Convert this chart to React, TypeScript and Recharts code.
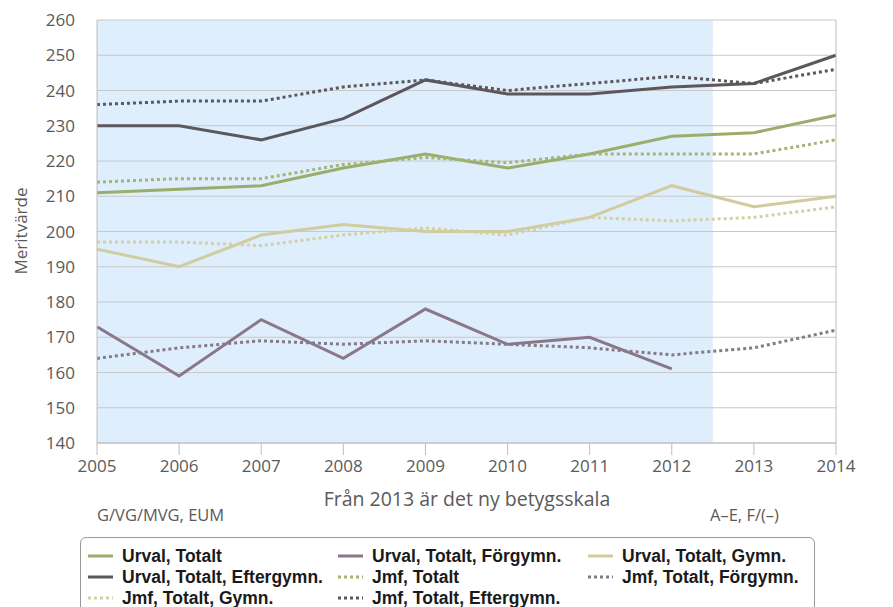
import { CartesianGrid, Line, LineChart, ReferenceArea, ReferenceLine, XAxis, YAxis } from 'recharts'

const years = [2005, 2006, 2007, 2008, 2009, 2010, 2011, 2012, 2013, 2014]
const yTicks = [140, 150, 160, 170, 180, 190, 200, 210, 220, 230, 240, 250, 260]

const urvalTotalt = [211, 212, 213, 218, 222, 218, 222, 227, 228, 233]
const urvalForgymn = [173, 159, 175, 164, 178, 168, 170, 161, null, null]
const urvalGymn = [195, 190, 199, 202, 200, 200, 204, 213, 207, 210]
const urvalEftergymn = [230, 230, 226, 232, 243, 239, 239, 241, 242, 250]
const jmfTotalt = [214, 215, 215, 219, 221, 219.5, 222, 222, 222, 226]
const jmfForgymn = [164, 167, 169, 168, 169, 168, 167, 165, 167, 172]
const jmfGymn = [197, 197, 196, 199, 201, 199, 204, 203, 204, 207]
const jmfEftergymn = [236, 237, 237, 241, 243, 240, 242, 244, 242, 246]

const series = [
  { key: 'ut', name: 'Urval, Totalt', values: urvalTotalt, color: '#9aad6a', dotted: false },
  { key: 'uf', name: 'Urval, Totalt, Förgymn.', values: urvalForgymn, color: '#8a7788', dotted: false },
  { key: 'ug', name: 'Urval, Totalt, Gymn.', values: urvalGymn, color: '#d0cc9f', dotted: false },
  { key: 'ue', name: 'Urval, Totalt, Eftergymn.', values: urvalEftergymn, color: '#5c575d', dotted: false },
  { key: 'jt', name: 'Jmf, Totalt', values: jmfTotalt, color: '#a3b574', dotted: true },
  { key: 'jf', name: 'Jmf, Totalt, Förgymn.', values: jmfForgymn, color: '#857a85', dotted: true },
  { key: 'jg', name: 'Jmf, Totalt, Gymn.', values: jmfGymn, color: '#d3d0a6', dotted: true },
  { key: 'je', name: 'Jmf, Totalt, Eftergymn.', values: jmfEftergymn, color: '#5c575d', dotted: true },
]

const data = years.map((year, i) => {
  const row: Record<string, number | null> = { year }
  series.forEach((s) => {
    row[s.key] = s.values[i]
  })
  return row
})

const labelFont = 'Open Sans, DejaVu Sans, sans-serif'
const tickFont = { fontSize: 17, fill: '#5a5a5a', fontFamily: labelFont }
const axisGrey = '#bdbdbd'

// right-hand tick labels, offset from the axis line by a fixed gap
function RightTick(props: any) {
  const { x, y, payload } = props
  return (
    <text x={x + 25} y={y} dy={6} textAnchor="start" fontSize={17} fill="#5a5a5a" fontFamily={labelFont}>
      {payload.value}
    </text>
  )
}

export default function App() {
  return (
    <div style={{ position: 'absolute', left: 0, top: 0, width: 893, height: 607, background: '#fff', overflow: 'hidden' }}>
      <LineChart width={893} height={607} data={data} margin={{ top: 20, right: 0, left: 40, bottom: 124 }}>
        <ReferenceArea yAxisId="l" x1={2005} x2={2012.5} y1={140} y2={260} fill="#dfeefc" fillOpacity={1} stroke="none" />
        {yTicks.map((t) => (
          <ReferenceLine key={t} yAxisId="l" y={t} stroke="#c8c8c8" strokeWidth={1} />
        ))}
        <CartesianGrid horizontal={false} vertical={false} />
        <XAxis
          dataKey="year"
          type="number"
          domain={[2005, 2014]}
          ticks={years}
          interval={0}
          height={40}
          tick={tickFont}
          tickLine={{ stroke: axisGrey }}
          tickSize={12}
          tickMargin={5}
          axisLine={{ stroke: axisGrey }}
        />
        <YAxis
          yAxisId="l"
          domain={[140, 260]}
          ticks={yTicks}
          interval={0}
          width={57}
          tick={tickFont}
          tickLine={false}
          axisLine={{ stroke: axisGrey }}
          tickMargin={16}
        />
        <YAxis
          yAxisId="r"
          orientation="right"
          domain={[140, 260]}
          ticks={yTicks}
          interval={0}
          width={57}
          tick={<RightTick />}
          tickLine={false}
          tickSize={0}
          tickMargin={0}
          axisLine={{ stroke: axisGrey }}
        />
        {series.map((s) => (
          <Line
            key={s.key}
            yAxisId="l"
            dataKey={s.key}
            name={s.name}
            type="linear"
            stroke={s.color}
            strokeWidth={3}
            strokeDasharray={s.dotted ? '3 3' : undefined}
            dot={false}
            activeDot={false}
            isAnimationActive={false}
            connectNulls={false}
          />
        ))}
      </LineChart>

      <div
        style={{
          position: 'absolute',
          left: 20,
          top: 231,
          transform: 'translate(-50%, -50%) rotate(-90deg)',
          fontFamily: labelFont,
          fontSize: 17,
          color: '#5a5a5a',
          whiteSpace: 'nowrap',
        }}
      >
        Meritvärde
      </div>
      <div
        style={{
          position: 'absolute',
          left: 467,
          top: 498,
          transform: 'translate(-50%, -50%)',
          fontFamily: labelFont,
          fontSize: 19.5,
          color: '#5a5a5a',
          whiteSpace: 'nowrap',
        }}
      >
        Från 2013 är det ny betygsskala
      </div>
      <div style={{ position: 'absolute', left: 97, top: 503, fontFamily: labelFont, fontSize: 16.5, color: '#5a5a5a' }}>
        G/VG/MVG, EUM
      </div>
      <div style={{ position: 'absolute', left: 710, top: 503, fontFamily: labelFont, fontSize: 16.5, color: '#5a5a5a' }}>
        A–E, F/(–)
      </div>

      <div
        style={{
          position: 'absolute',
          left: 80,
          top: 537,
          width: 735,
          height: 90,
          border: '1px solid #999',
          borderRadius: 6,
          boxSizing: 'border-box',
        }}
      >
        {series.map((s, i) => {
          const col = i % 3
          const row = Math.floor(i / 3)
          return (
            <div
              key={s.key}
              style={{
                position: 'absolute',
                left: 7 + col * 250,
                top: 8 + row * 21,
                height: 20,
                display: 'flex',
                alignItems: 'center',
                fontFamily: 'Liberation Sans, Arial, sans-serif',
                fontWeight: 'bold',
                fontSize: 17.5,
                color: '#1a1a1a',
                whiteSpace: 'nowrap',
              }}
            >
              <svg width={25} height={6} style={{ marginRight: 9 }}>
                <line
                  x1={0}
                  y1={3}
                  x2={25}
                  y2={3}
                  stroke={s.color}
                  strokeWidth={3}
                  strokeDasharray={s.dotted ? '3 3' : undefined}
                />
              </svg>
              {s.name}
            </div>
          )
        })}
      </div>
    </div>
  )
}
